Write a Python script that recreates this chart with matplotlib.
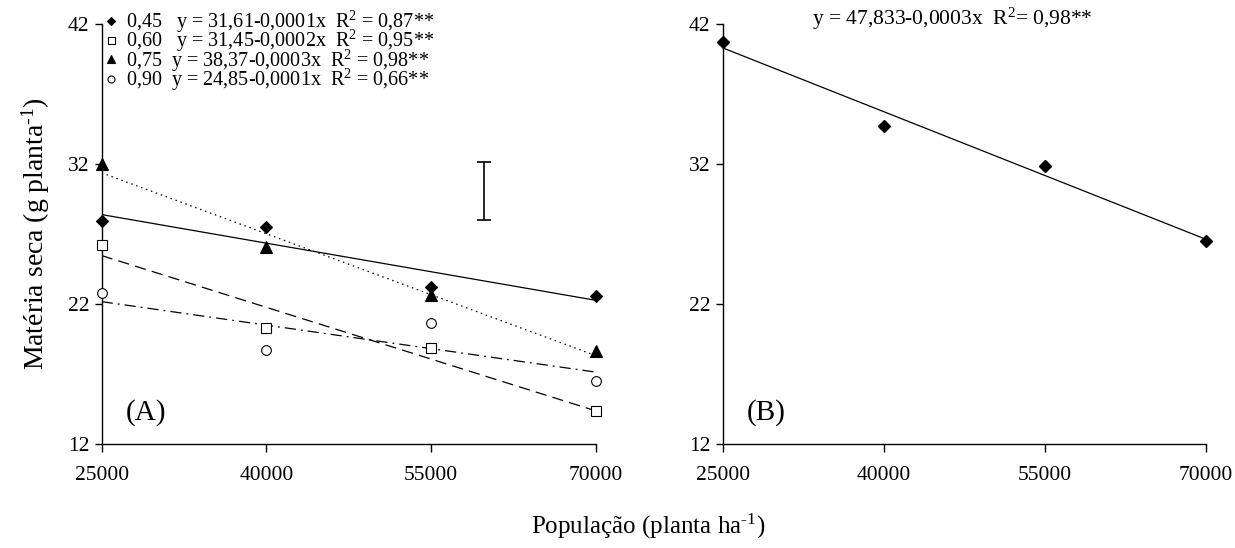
import numpy as np
import matplotlib
matplotlib.use("Agg")
import matplotlib.pyplot as plt

plt.rcParams['font.family'] = ['Liberation Serif', 'DejaVu Serif']
plt.rcParams['mathtext.fontset'] = 'custom'
plt.rcParams['mathtext.rm'] = 'Liberation Serif'
plt.rcParams['mathtext.it'] = 'Liberation Serif:italic'

# populacao (planta/ha)
pop = [25000, 40000, 55000, 70000]

# (A) materia seca por espacamento
ms_045 = [27.94, 27.51, 23.22, 22.57]
ms_060 = [26.18, 20.26, 18.83, 14.34]
ms_075 = [32.00, 26.03, 22.64, 18.63]
ms_090 = [22.74, 18.68, 20.66, 16.49]
labels_a = ["0,45   y = 31,61-0,0001x  R$^2$ = 0,87**",
            "0,60   y = 31,45-0,0002x  R$^2$ = 0,95**",
            "0,75  y = 38,37-0,0003x  R$^2$ = 0,98**",
            "0,90  y = 24,85-0,0001x  R$^2$ = 0,66**"]

# barra DMS
dms_x = 59800
dms_y = 30.07
dms_half = 2.06

# (B) media
ms_b = [40.70, 34.72, 31.81, 26.51]
eq_b = "y = 47,833-0,0003x  R$^2$= 0,98**"

yticks = [12, 22, 32, 42]


def trend(ax, x, y, ls):
    coef = np.polyfit(x, y, 1)
    xx = np.array([x[0], x[-1]])
    ax.plot(xx, np.polyval(coef, xx), color='black', lw=0.9, linestyle=ls, zorder=2)


def style_axis(ax):
    ax.set_xlim(25000, 70000)
    ax.set_ylim(12, 42)
    ax.set_xticks(pop)
    ax.set_xticklabels([str(p) for p in pop])
    ax.set_yticks(yticks)
    for s in ['top', 'right']:
        ax.spines[s].set_visible(False)
    for s in ['left', 'bottom']:
        ax.spines[s].set_linewidth(1.0)
    ax.tick_params(axis='y', direction='out', length=5, width=1, labelsize=15.5, pad=4)
    ax.tick_params(axis='x', direction='out', length=6, width=1, labelsize=15.5, pad=10)


fig = plt.figure(figsize=(12.35, 5.48), dpi=100)
ax1 = fig.add_axes([0.0823, 0.1898, 0.4003, 0.7672])
ax2 = fig.add_axes([0.5854, 0.1898, 0.3909, 0.7672])

# painel A
styles = [
    (ms_045, 'D', 'black', '-', 6),
    (ms_060, 's', 'white', (0, (9, 5)), 7),
    (ms_075, '^', 'black', (0, (1.2, 3.0)), 8),
    (ms_090, 'o', 'white', (0, (9, 4, 1.5, 4)), 7),
]
for (vals, mk, fc, ls, sz), lab in zip(styles, labels_a):
    trend(ax1, pop, vals, ls)
    ax1.plot(pop, vals, linestyle='none', marker=mk, markersize=sz, markerfacecolor=fc,
             markeredgecolor='black', markeredgewidth=0.8, clip_on=False, zorder=3, label=lab)

ax1.errorbar([dms_x], [dms_y], yerr=dms_half, fmt='none', ecolor='black', elinewidth=1.2,
             capsize=5, capthick=1.2)
ax1.text(27200, 13.3, "(A)", fontsize=21, ha='left', va='bottom')
leg = ax1.legend(loc='upper left', bbox_to_anchor=(0.0, 1.045), frameon=False, fontsize=14.5,
                 handlelength=0.5, handletextpad=0.5, labelspacing=-0.34, markerscale=0.72,
                 borderaxespad=0.0, borderpad=0.2)
style_axis(ax1)

# painel B
trend(ax2, pop, ms_b, '-')
ax2.plot(pop, ms_b, linestyle='none', marker='D', markersize=6, color='black',
         clip_on=False, zorder=3)
ax2.text(0.185, 1.01, eq_b, transform=ax2.transAxes, fontsize=15.5, ha='left', va='center')
ax2.text(27200, 13.3, "(B)", fontsize=21, ha='left', va='bottom')
style_axis(ax2)

ax1.set_ylabel("Matéria seca (g planta$^{\\text{-}1}$)", fontsize=20, labelpad=11)
fig.text(0.525, 0.04, "População (planta ha$^{\\text{-}1}$)", fontsize=18, ha='center', va='center')

fig.savefig("out.png", dpi=100)
